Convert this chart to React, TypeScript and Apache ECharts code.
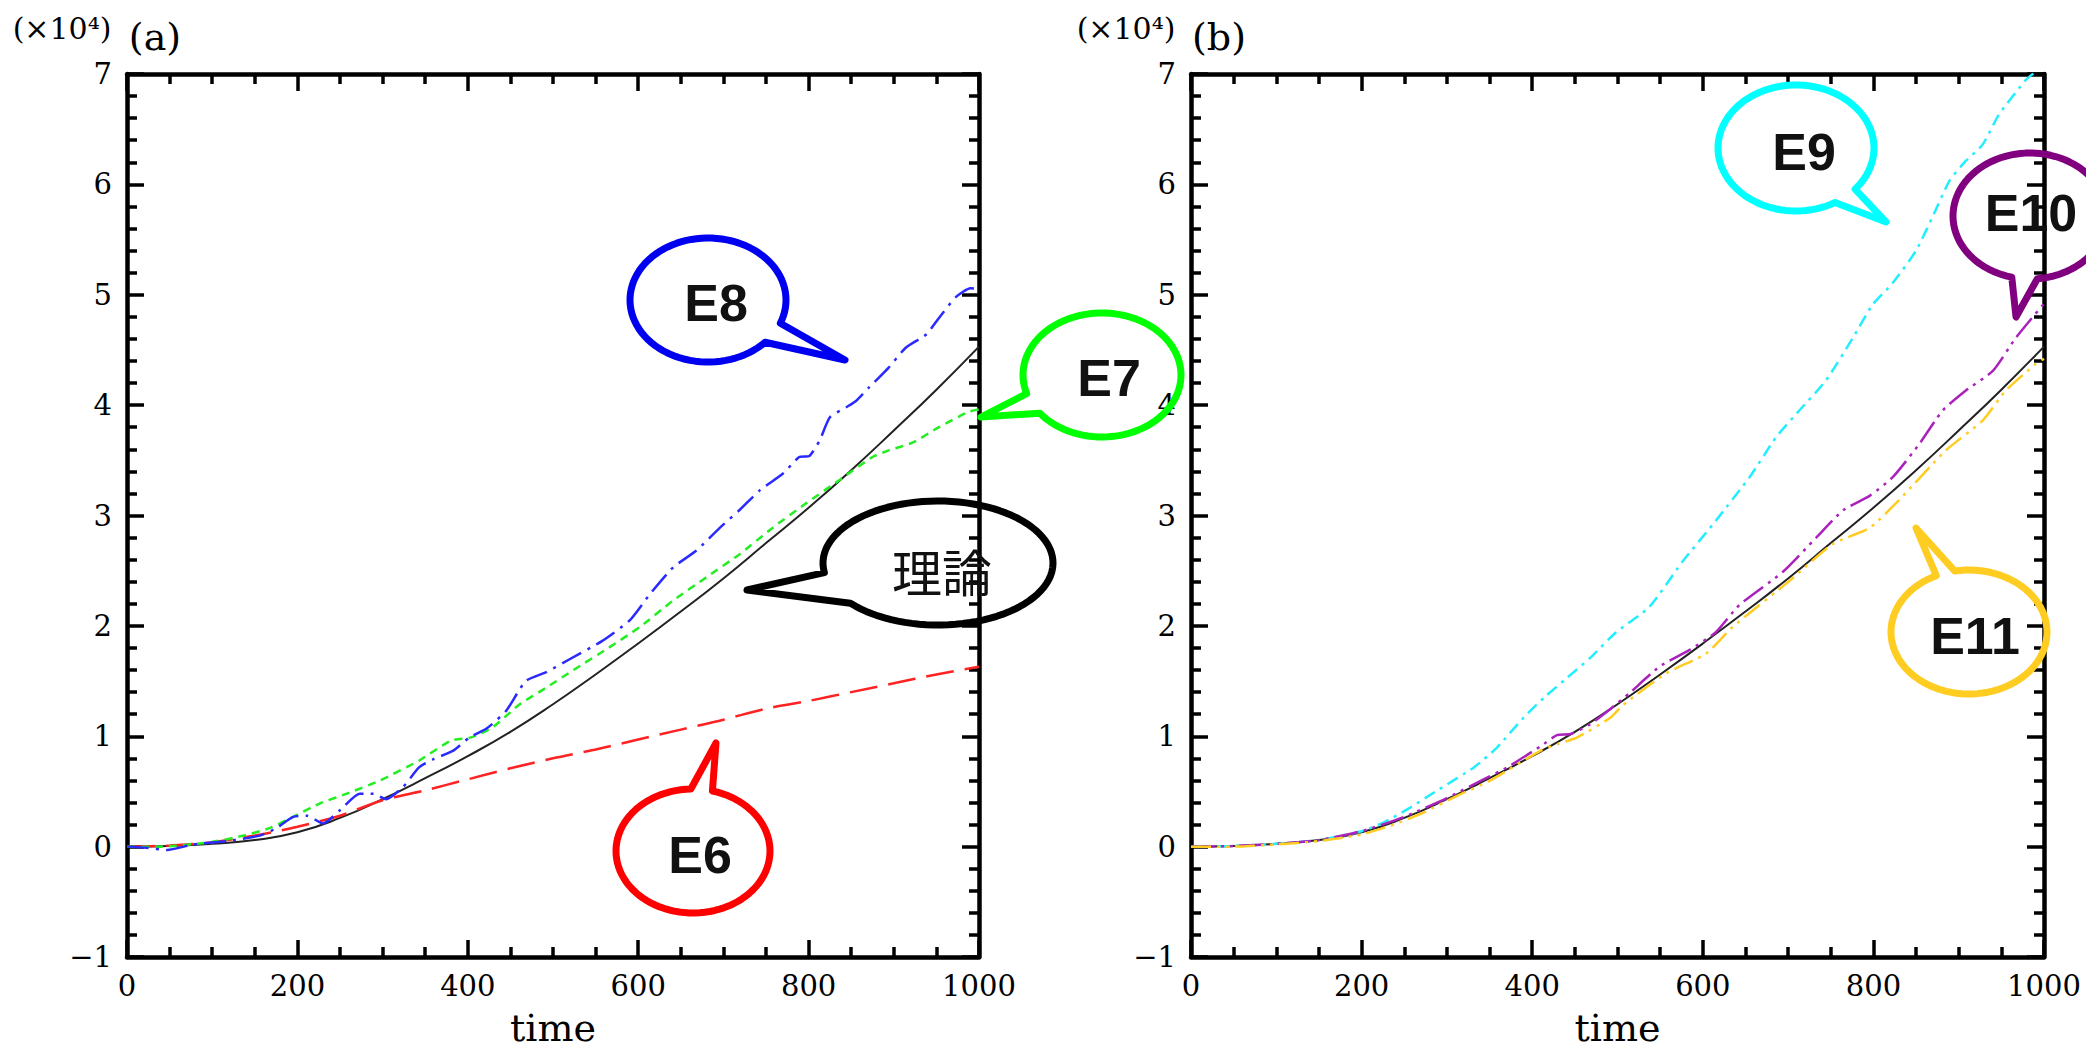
import React, { useEffect, useRef } from 'react';
import * as echarts from 'echarts';

// ---------- data (values in units of 10^4) ----------
const theoryTime = [0, 50, 100, 150, 200, 250, 300, 350, 400, 450, 500, 550, 600, 650, 700, 750, 800, 850, 900, 950, 1000];
const theoryValue = [0, 0.005, 0.025, 0.06, 0.13, 0.26, 0.43, 0.62, 0.82, 1.04, 1.29, 1.56, 1.84, 2.13, 2.43, 2.75, 3.07, 3.41, 3.77, 4.14, 4.53];

const e6Time = [0, 50, 100, 150, 200, 250, 300, 350, 400, 450, 500, 550, 600, 650, 700, 750, 800, 850, 900, 950, 1000];
const e6Value = [0, 0.01, 0.04, 0.1, 0.18, 0.28, 0.42, 0.51, 0.61, 0.71, 0.8, 0.88, 0.97, 1.06, 1.15, 1.25, 1.32, 1.4, 1.48, 1.56, 1.63];

const e7Time = [0, 39, 98, 137, 168, 195, 226, 258, 297, 343, 380, 404, 429, 461, 492, 524, 563, 602, 641, 680, 719, 758, 797, 836, 875, 894, 922, 953, 988, 1000];
const e7Value = [0, 0, 0.04, 0.1, 0.17, 0.27, 0.39, 0.48, 0.6, 0.78, 0.96, 0.99, 1.08, 1.29, 1.44, 1.6, 1.79, 1.99, 2.23, 2.44, 2.65, 2.89, 3.11, 3.32, 3.53, 3.59, 3.66, 3.8, 3.94, 3.96];

const e8Time = [0, 23, 47, 78, 117, 156, 176, 195, 211, 230, 250, 273, 289, 304, 324, 343, 359, 383, 402, 422, 445, 468, 492, 520, 557, 590, 614, 641, 668, 696, 719, 743, 770, 789, 801, 813, 825, 844, 856, 871, 894, 914, 938, 953, 973, 990, 1000];
const e8Value = [0, -0.01, -0.03, 0.02, 0.05, 0.1, 0.17, 0.27, 0.28, 0.21, 0.33, 0.48, 0.48, 0.43, 0.54, 0.72, 0.79, 0.87, 0.99, 1.07, 1.23, 1.5, 1.58, 1.7, 1.86, 2.05, 2.29, 2.53, 2.68, 2.89, 3.05, 3.23, 3.38, 3.53, 3.54, 3.68, 3.89, 3.98, 4.04, 4.16, 4.34, 4.52, 4.64, 4.79, 4.98, 5.06, 5.05];

const e9Time = [0, 50, 100, 150, 200, 226, 254, 289, 332, 359, 390, 414, 441, 468, 498, 537, 576, 615, 655, 686, 713, 744, 776, 799, 822, 850, 869, 889, 908, 928, 947, 978, 990];
const e9Value = [0, 0.005, 0.025, 0.06, 0.14, 0.22, 0.34, 0.51, 0.72, 0.9, 1.17, 1.35, 1.53, 1.71, 1.94, 2.17, 2.58, 2.95, 3.35, 3.71, 3.95, 4.22, 4.61, 4.91, 5.1, 5.4, 5.7, 6.03, 6.21, 6.36, 6.63, 6.94, 7.02];

const e10Time = [0, 50, 100, 150, 200, 250, 300, 343, 371, 410, 429, 445, 468, 492, 514, 549, 584, 615, 643, 694, 733, 765, 796, 823, 854, 881, 908, 940, 967, 1000];
const e10Value = [0, 0.005, 0.025, 0.06, 0.14, 0.27, 0.44, 0.61, 0.72, 0.91, 1.01, 1.02, 1.11, 1.25, 1.39, 1.63, 1.78, 1.94, 2.19, 2.49, 2.8, 3.05, 3.18, 3.35, 3.65, 3.95, 4.13, 4.31, 4.61, 4.92];

const e11Time = [0, 50, 100, 150, 200, 234, 270, 312, 351, 410, 430, 453, 492, 506, 557, 604, 635, 702, 752, 796, 830, 885, 928, 955, 990, 1000];
const e11Value = [0, 0, 0.02, 0.05, 0.11, 0.19, 0.3, 0.46, 0.6, 0.87, 0.93, 0.99, 1.17, 1.28, 1.57, 1.75, 1.99, 2.41, 2.74, 2.89, 3.14, 3.59, 3.86, 4.13, 4.37, 4.42];

const xTickInterval = 200;
const yTickInterval = 1;
const panelLabels = ['(a)', '(b)'];
const scaleLabel = '(×10⁴)';
const xName = 'time';

// ---------- layout / styling ----------
const W = 2086;
const H = 1052;
const gridsPos = [
  { left: 127, top: 74, width: 852, height: 883 },
  { left: 1191, top: 74, width: 853, height: 883 },
];

const bubbles = [
  { label: 'E8', color: '#0000f0', cx: 708, cy: 300, rx: 78, ry: 62, a1: 22, a2: 43, tip: [845, 360], tx: 716, ty: 303, cjk: false },
  { label: 'E7', color: '#00ff00', cx: 1102, cy: 375, rx: 79, ry: 62, a1: 142, a2: 162.5, tip: [981, 417], tx: 1109, ty: 378, cjk: false },
  { label: '理論', color: '#000000', cx: 938, cy: 563, rx: 115, ry: 62, a1: 139.6, a2: 171, tip: [747, 590], tx: 942, ty: 570, cjk: true },
  { label: 'E6', color: '#ff0000', cx: 693, cy: 851, rx: 77, ry: 62, a1: 268.4, a2: 284.6, tip: [716, 743], tx: 700, ty: 855, cjk: false },
  { label: 'E9', color: '#00ffff', cx: 1796, cy: 148, rx: 78, ry: 63, a1: 40.8, a2: 60, tip: [1886, 222], tx: 1804, ty: 152, cjk: false },
  { label: 'E10', color: '#800080', cx: 2030, cy: 216, rx: 77, ry: 63, a1: 84.5, a2: 103.7, tip: [2016, 317], tx: 2031, ty: 213, cjk: false },
  { label: 'E11', color: '#ffcc22', cx: 1969, cy: 632, rx: 78, ry: 62, a1: 245.2, a2: 259.5, tip: [1916, 528], tx: 1975, ty: 636, cjk: false },
];

function pairs(t: number[], v: number[]) {
  return t.map((x, i) => [x, v[i]]);
}

function bubblePoints(b: any) {
  const pts: number[][] = [];
  const start = b.a2;
  const end = b.a1 + 360;
  const steps = 90;
  for (let i = 0; i <= steps; i++) {
    const a = ((start + ((end - start) * i) / steps) * Math.PI) / 180;
    pts.push([b.cx + b.rx * Math.cos(a), b.cy + b.ry * Math.sin(a)]);
  }
  pts.push(b.tip);
  return pts;
}

const serifFont = 'DejaVu Serif';
const tickStyle = { color: '#000', width: 3.5 };
const frameStyle = { color: '#000', width: 4.5 };

function xAxesFor(gridIndex: number) {
  const base: any = {
    type: 'value',
    gridIndex,
    min: 0,
    max: 1000,
    interval: xTickInterval,
    splitLine: { show: false },
    axisLine: { show: true, onZero: false, lineStyle: frameStyle },
    axisTick: { show: true, inside: true, length: 17, lineStyle: tickStyle },
    minorTick: { show: true, splitNumber: 4, length: 10, lineStyle: tickStyle },
    minorSplitLine: { show: false },
  };
  return [
    {
      ...base,
      position: 'bottom',
      axisLabel: {
        show: true,
        margin: 14,
        fontFamily: serifFont,
        fontSize: 29,
        color: '#000',
        formatter: (v: number) => String(v),
      },
      name: xName,
      nameLocation: 'middle',
      nameGap: 71,
      nameTextStyle: {
        fontFamily: serifFont,
        fontSize: 38,
        lineHeight: 38,
        color: '#000',
        verticalAlign: 'middle',
      },
    },
    { ...base, position: 'top', axisLabel: { show: false } },
  ];
}

function yAxesFor(gridIndex: number) {
  const base: any = {
    type: 'value',
    gridIndex,
    min: -1,
    max: 7,
    interval: yTickInterval,
    splitLine: { show: false },
    axisLine: { show: true, onZero: false, lineStyle: frameStyle },
    axisTick: { show: true, inside: true, length: 17, lineStyle: tickStyle },
    minorTick: { show: true, splitNumber: 5, length: 10, lineStyle: tickStyle },
    minorSplitLine: { show: false },
  };
  return [
    {
      ...base,
      position: 'left',
      axisLabel: {
        show: true,
        margin: 15,
        fontFamily: serifFont,
        fontSize: 29,
        color: '#000',
        formatter: (v: number) => (v < 0 ? '\u2212' + Math.abs(v) : String(v)),
      },
    },
    { ...base, position: 'right', axisLabel: { show: false } },
  ];
}

function lineSeries(name: string, t: number[], v: number[], panel: number, color: string, width: number, type: any, smooth: any) {
  return {
    name,
    type: 'line',
    xAxisIndex: panel * 2,
    yAxisIndex: panel * 2,
    data: pairs(t, v),
    showSymbol: false,
    symbol: 'none',
    smooth,
    clip: true,
    lineStyle: { color, width, type, cap: 'butt' },
    z: 3,
  };
}

export default function App() {
  const ref = useRef<HTMLDivElement>(null);
  useEffect(() => {
    if (!ref.current) return;
    const chart = echarts.init(ref.current, undefined, { renderer: 'svg' });

    const graphics: any[] = [];
    bubbles.forEach((b) => {
      graphics.push({
        type: 'polygon',
        z: 100,
        shape: { points: bubblePoints(b) },
        style: { fill: 'none', stroke: b.color, lineWidth: 7, lineJoin: 'round' },
      });
      graphics.push({
        type: 'text',
        z: 101,
        x: b.tx,
        y: b.ty,
        style: {
          text: b.label,
          fill: '#111',
          fontSize: b.cjk ? 50 : 52,
          fontWeight: b.cjk ? 'normal' : 'bold',
          fontFamily: b.cjk ? 'Noto Sans CJK JP' : 'Liberation Sans',
          align: 'center',
          verticalAlign: 'middle',
          textAlign: 'center',
          textVerticalAlign: 'middle',
        },
      });
    });
    gridsPos.forEach((g, i) => {
      graphics.push({
        type: 'text',
        x: g.left - 65,
        y: 28,
        style: {
          text: scaleLabel,
          fill: '#000',
          fontSize: 30,
          fontFamily: serifFont,
          align: 'center',
          verticalAlign: 'middle',
          textAlign: 'center',
          textVerticalAlign: 'middle',
        },
      });
      graphics.push({
        type: 'text',
        x: g.left + 28,
        y: 37,
        style: {
          text: panelLabels[i],
          fill: '#000',
          fontSize: 38,
          fontFamily: serifFont,
          align: 'center',
          verticalAlign: 'middle',
          textAlign: 'center',
          textVerticalAlign: 'middle',
        },
      });
    });

    const option: any = {
      animation: false,
      backgroundColor: '#ffffff',
      grid: gridsPos.map((g) => ({ ...g, containLabel: false, outerBoundsMode: 'none' })),
      xAxis: [...xAxesFor(0), ...xAxesFor(1)],
      yAxis: [...yAxesFor(0), ...yAxesFor(1)],
      series: [
        lineSeries('理論', theoryTime, theoryValue, 0, '#222222', 2, 'solid', true),
        lineSeries('E6', e6Time, e6Value, 0, '#ff2222', 2.5, [28, 11], 0.3),
        lineSeries('E7', e7Time, e7Value, 0, '#22ee22', 2.5, [8, 6], 0.2),
        lineSeries('E8', e8Time, e8Value, 0, '#2a2aff', 2.5, [22, 7, 3, 7], 0.2),
        lineSeries('理論', theoryTime, theoryValue, 1, '#222222', 2, 'solid', true),
        lineSeries('E9', e9Time, e9Value, 1, '#22eeff', 2.5, [12, 6, 3, 6], 0.2),
        lineSeries('E10', e10Time, e10Value, 1, '#aa22bb', 2.5, [24, 6, 3, 6, 3, 6], 0.2),
        lineSeries('E11', e11Time, e11Value, 1, '#ffcc22', 2.5, [20, 6, 3, 6, 3, 6], 0.2),
      ],
      graphic: graphics,
    };
    chart.setOption(option);
    return () => {
      chart.dispose();
    };
  }, []);

  return (
    <div
      ref={ref}
      style={{ position: 'absolute', left: 0, top: 0, width: W, height: H, background: '#fff' }}
    />
  );
}
